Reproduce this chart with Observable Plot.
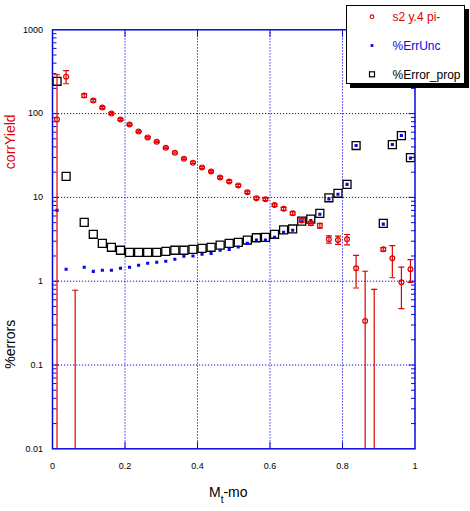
<!DOCTYPE html>
<html><head><meta charset="utf-8">
<script src="https://cdn.jsdelivr.net/npm/d3@7"></script>
<script src="https://cdn.jsdelivr.net/npm/@observablehq/plot@0.6"></script>
<style>
body{margin:0;background:#fff;}
#wrap{position:relative;width:470px;height:511px;font-family:"Liberation Sans",Arial,Helvetica,sans-serif;}
#legend{position:absolute;left:346px;top:5px;width:117px;height:77px;border:1px solid #000;background:#fff;box-shadow:4px 4px 0 #000;}
#legend svg{display:block;}
</style></head><body><div id="wrap"></div>
<script>
// bin centres of M_t - m0
const xMid = [0.0125,0.0375,0.0625,0.0875,0.1125,0.1375,0.1625,0.1875,0.2125,0.2375,
  0.2625,0.2875,0.3125,0.3375,0.3625,0.3875,0.4125,0.4375,0.4625,0.4875,
  0.5125,0.5375,0.5625,0.5875,0.6125,0.6375,0.6625,0.6875,0.7125,0.7375,
  0.7625,0.7875,0.8125,0.8375,0.8625,0.8875,0.9125,0.9375,0.9625,0.9875];
// corrYield "s2 y.4 pi-"
const corrYield = [85,276,null,164,143,118,100,85,74,61,
  52,46,39,34,29,26,22.8,20.4,17.3,15.5,
  13.9,11.5,9.8,9.5,8.1,7.3,6.45,5.3,4.9,4.6,
  3.16,3.1,3.16,1.43,0.334,null,2.4,1.88,0.97,1.39];
// absolute error on corrYield
const yieldErr = [206,49,0.78,8.3,5.2,3.3,2.5,2.0,1.6,1.35,
  1.15,1.0,0.89,0.80,0.68,0.62,0.56,0.52,0.47,0.44,
  0.40,0.36,0.32,0.32,0.29,0.30,0.27,0.28,0.27,0.30,
  0.31,0.35,0.45,0.6,0.98,0.80,0.12,0.78,0.50,0.42];
// %ErrUnc
const errUnc = [7.0,1.39,null,1.47,1.31,1.35,1.35,1.43,1.47,1.55,
  1.64,1.68,1.73,1.83,1.99,2.0,2.1,2.15,2.34,2.4,
  2.56,2.83,3.1,3.1,3.34,3.83,4.05,5.2,5.3,6.3,
  9.6,10.9,14.3,41.6,null,null,4.8,42.7,54.7,29.4];
// %Error_prop
const errProp = [243,17.8,null,5.04,3.63,2.83,2.54,2.34,2.21,2.21,
  2.21,2.21,2.27,2.34,2.34,2.4,2.47,2.54,2.69,2.83,
  2.91,3.1,3.3,3.34,3.63,4.1,4.2,5.2,5.5,6.45,
  9.9,11.2,14.3,41.6,null,null,4.9,42.7,54.7,29.8];

const xTicks = [0,0.2,0.4,0.6,0.8,1];
const xGrid = [0.2,0.4,0.6,0.8];
const yTicks = [0.01,0.1,1,10,100,1000];
const yGrid = [0.1,1,10,100];
const yMinor = [0.02,0.03,0.04,0.05,0.06,0.07,0.08,0.09,
  0.2,0.3,0.4,0.5,0.6,0.7,0.8,0.9,2,3,4,5,6,7,8,9,
  20,30,40,50,60,70,80,90,200,300,400,500,600,700,800,900];

const BLUE = "#0a0ae0", RED = "#e00000";

const rows = xMid.map((x,i) => ({x, v: corrYield[i], e: yieldErr[i], unc: errUnc[i], prop: errProp[i]}));
const lowRows = rows.filter(d => d.v != null && d.v - d.e > 0);

const capSymbol = {draw(ctx, size){ const w = Math.sqrt(size/Math.PI); ctx.moveTo(-w,0); ctx.lineTo(w,0); }};

const chart = Plot.plot({
  width: 470, height: 511,
  marginLeft: 52, marginRight: 55.5, marginTop: 29.3, marginBottom: 62.7,
  style: {fontFamily: '"Liberation Sans", Arial, sans-serif', fontSize: "9px", background: "white", overflow: "visible"},
  x: {domain: [0,1]},
  y: {type: "log", domain: [0.01,1000]},
  marks: [
    Plot.gridX(xGrid, {stroke: BLUE, strokeOpacity: 1, strokeDasharray: "1.2,1.8", strokeWidth: 1}),
    Plot.gridY(yGrid, {stroke: BLUE, strokeOpacity: 1, strokeDasharray: "1.2,1.8", strokeWidth: 1}),
    Plot.axisY(yMinor, {anchor: "left", tickSize: 4.5, dx: 4.5, stroke: BLUE, fill: "none", label: null}),
    Plot.axisY(yMinor, {anchor: "right", tickSize: 4.5, dx: -4.5, stroke: BLUE, fill: "none", label: null}),
    Plot.axisY(yGrid, {anchor: "left", tickSize: 7, dx: 7, stroke: BLUE, fill: "none", label: null}),
    Plot.axisY(yGrid, {anchor: "right", tickSize: 7, dx: -7, stroke: BLUE, fill: "none", label: null}),
    Plot.axisX(xGrid, {anchor: "bottom", tickSize: 6.5, dy: -6.5, stroke: BLUE, fill: "none", label: null}),
    Plot.axisX(xGrid, {anchor: "top", tickSize: 6.5, dy: 6.5, stroke: BLUE, fill: "none", label: null}),
    Plot.axisY(yTicks, {anchor: "left", tickSize: 0, tickPadding: 9.5, fill: "black", tickFormat: d => String(d), label: null, fontSize: 9}),
    Plot.axisX(xTicks, {anchor: "bottom", tickSize: 0, tickPadding: 14, fill: "black", tickFormat: d => String(d), label: null, fontSize: 9}),
    Plot.frame({stroke: BLUE, strokeWidth: 1.5}),
    Plot.text(["corrYield"], {frameAnchor: "left", textAnchor: "middle", dx: -41.5, dy: -97.5, rotate: -90, fill: RED, fontSize: 14, text: d => d}),
    Plot.text(["%errors"], {frameAnchor: "left", textAnchor: "middle", dx: -41.5, dy: 105, rotate: -90, fill: "black", fontSize: 14, text: d => d}),
    // %Error_prop
    Plot.dot(rows, {x: "x", y: "prop", symbol: "square", r: 4.5, stroke: "black", strokeWidth: 1.3, fill: "none", clip: true}),
    // %ErrUnc
    Plot.dot(rows, {x: "x", y: "unc", symbol: "square", r: 1.75, fill: BLUE, stroke: "none", clip: true}),
    // corrYield error bars
    Plot.ruleX(rows, {x: "x", y1: d => d.v == null ? 1e-5 : Math.max(d.v - d.e, 1e-5), y2: d => (d.v ?? 0) + d.e, stroke: RED, strokeWidth: 1.2, clip: true}),
    Plot.dot(rows, {x: "x", y: d => (d.v ?? 0) + d.e, symbol: capSymbol, r: 3, stroke: RED, strokeWidth: 1.2, fill: "none", clip: true}),
    Plot.dot(lowRows, {x: "x", y: d => d.v - d.e, symbol: capSymbol, r: 3, stroke: RED, strokeWidth: 1.2, fill: "none", clip: true}),
    Plot.dot(rows, {x: "x", y: "v", r: 2.4, stroke: RED, strokeWidth: 1.2, fill: "none", clip: true})
  ]
});

// x-axis label with subscript
const xs = chart.scale("x");
const lab = d3.select(chart).append("text")
  .attr("x", xs.apply(0.5) - 5).attr("y", 496.5)
  .attr("text-anchor", "middle").attr("font-size", 14).attr("fill", "black");
lab.append("tspan").text("M");
lab.append("tspan").attr("dy", 6.5).attr("font-size", 10).text("t");
lab.append("tspan").attr("dy", -6.5).text("-mo");

const wrap = document.getElementById("wrap");
wrap.appendChild(chart);

// legend
const legendItems = [
  {label: "s2 y.4 pi-", color: RED, kind: "circle"},
  {label: "%ErrUnc", color: BLUE, kind: "dot"},
  {label: "%Error_prop", color: "black", kind: "square"}
];
const lg = document.createElement("div");
lg.id = "legend";
wrap.appendChild(lg);
const ls = d3.select(lg).append("svg").attr("width", 117).attr("height", 77);
legendItems.forEach((it, i) => {
  const cy = 10.7 + i * 28.8;
  if (it.kind === "circle") ls.append("circle").attr("cx", 25).attr("cy", cy).attr("r", 1.8).attr("fill", "none").attr("stroke", it.color).attr("stroke-width", 1.1);
  else if (it.kind === "dot") ls.append("rect").attr("x", 23.6).attr("y", cy - 1.4).attr("width", 2.8).attr("height", 2.8).attr("fill", it.color);
  else ls.append("rect").attr("x", 22.5).attr("y", cy - 2.5).attr("width", 5).attr("height", 5).attr("fill", "none").attr("stroke", it.color).attr("stroke-width", 1.2);
  ls.append("text").attr("x", 45.5).attr("y", cy + 4.3).attr("font-size", 12).attr("fill", it.color)
    .attr("font-family", '"Liberation Sans", Arial, sans-serif').text(it.label);
});
</script>
</body></html>
